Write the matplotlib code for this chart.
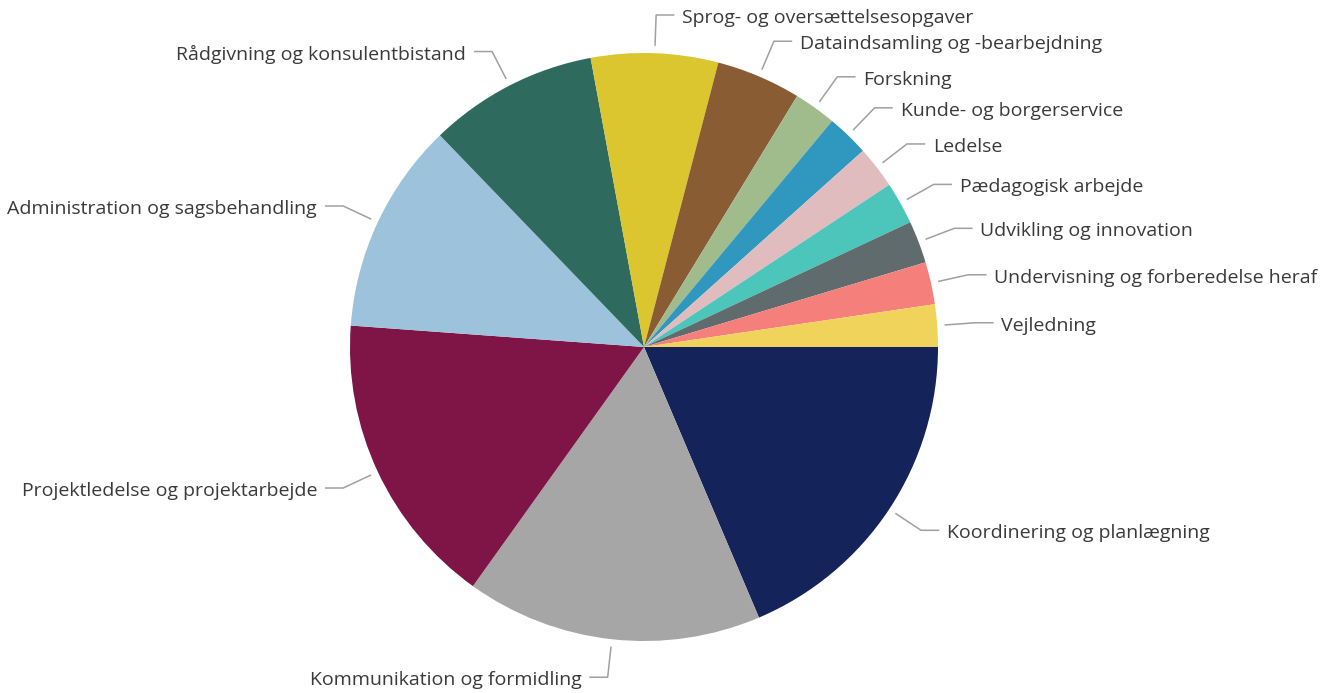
import matplotlib
matplotlib.use("Agg")
import matplotlib.pyplot as plt
import numpy as np

# Opgavetyper (antal besvarelser), med uret fra kl. 3
labels = [
    "Koordinering og planlægning",
    "Kommunikation og formidling",
    "Projektledelse og projektarbejde",
    "Administration og sagsbehandling",
    "Rådgivning og konsulentbistand",
    "Sprog- og oversættelsesopgaver",
    "Dataindsamling og -bearbejdning",
    "Forskning",
    "Kunde- og borgerservice",
    "Ledelse",
    "Pædagogisk arbejde",
    "Udvikling og innovation",
    "Undervisning og forberedelse heraf",
    "Vejledning",
]
counts = [8, 7, 7, 5, 4, 3, 2, 1, 1, 1, 1, 1, 1, 1]
colors = [
    "#14245a", "#a6a6a6", "#7f1447", "#9dc2dc", "#2e6b5e", "#dbc630",
    "#8a5c33", "#a0bb8c", "#3097bf", "#e1bcbf", "#4cc5bb", "#5f6b6d",
    "#f47f7b", "#f0d35b",
]

plt.rcParams["font.family"] = ["Open Sans", "DejaVu Sans"]

W, H = 1328, 693
fig = plt.figure(figsize=(W / 100, H / 100), dpi=100)
ax = fig.add_axes([0, 0, 1, 1])

cx, cy, R = 644, 346, 294  # pixel centre (from bottom) and radius
wedges, _ = ax.pie(counts, colors=colors, startangle=0, counterclock=False,
                   radius=1, wedgeprops=dict(linewidth=0))
ax.set_aspect("auto")
ax.set_xlim(-cx / R, (W - cx) / R)
ax.set_ylim(-cy / R, (H - cy) / R)
ax.axis("off")

for w, lab in zip(wedges, labels):
    mid = np.deg2rad((w.theta1 + w.theta2) / 2)
    c, s = np.cos(mid), np.sin(mid)
    x0, y0 = 1.025 * c, 1.025 * s
    x1, y1 = 1.13 * c, 1.13 * s
    side = 1 if c >= -0.05 else -1
    x2 = x1 + side * 0.062
    ax.plot([x0, x1, x2], [y0, y1, y1], color="#a0a0a0", lw=1.1,
            solid_capstyle="butt")
    ax.text(x2 + side * 0.027, y1 - 0.01, lab,
            ha="left" if side > 0 else "right",
            va="center", fontsize=14, color="#3a3a3a")

fig.savefig("out.png", dpi=100, facecolor="white")
